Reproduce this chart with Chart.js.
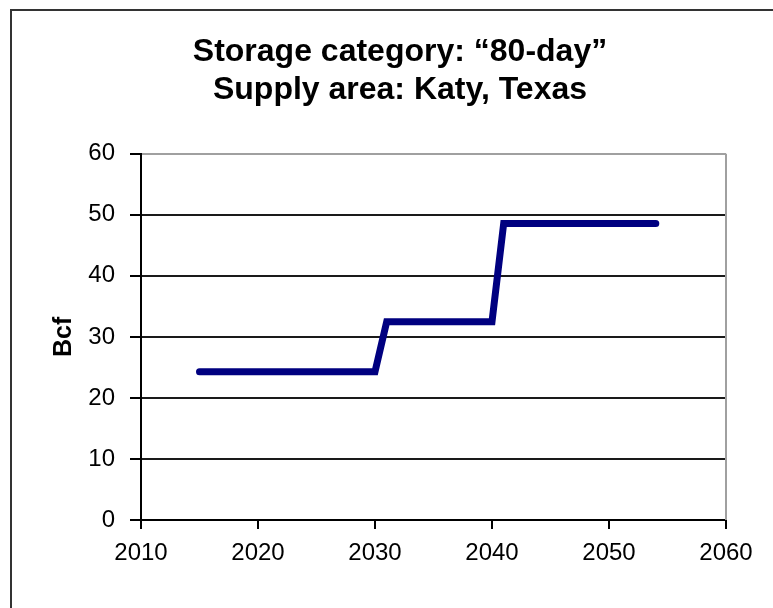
<!DOCTYPE html>
<html>
<head>
<meta charset="utf-8">
<script src="https://cdn.jsdelivr.net/npm/chart.js@4.4.1/dist/chart.umd.min.js"></script>
<style>
html,body{margin:0;padding:0;background:#fff;overflow:hidden}
#wrap{position:relative;width:773px;height:608px}
</style>
</head>
<body>
<div id="wrap"><canvas id="c" width="773" height="608"></canvas></div>
<script>
// ---- data ----
const titleLines = ['Storage category: \u201c80-day\u201d', 'Supply area: Katy, Texas'];
const yAxisTitle = 'Bcf';
const years = [2015, 2030, 2031, 2040, 2041, 2054];
const bcf = [24.3, 24.3, 32.5, 32.5, 48.6, 48.6];
const xTicks = [2010, 2020, 2030, 2040, 2050, 2060];
const yTicks = [0, 10, 20, 30, 40, 50, 60];

const FONT = "'Liberation Sans', Arial, Helvetica, sans-serif";

const framePlugin = {
  id: 'frame',
  beforeDraw(chart) {
    const ctx = chart.ctx;
    ctx.save();
    ctx.fillStyle = '#fff';
    ctx.fillRect(0, 0, chart.width, chart.height);
    ctx.strokeStyle = '#333';
    ctx.lineWidth = 2;
    ctx.beginPath();
    ctx.moveTo(11, chart.height);
    ctx.lineTo(11, 10);
    ctx.lineTo(chart.width, 10);
    ctx.stroke();
    ctx.restore();
  },
  beforeDatasetsDraw(chart) {
    const {ctx, chartArea} = chart;
    ctx.save();
    ctx.strokeStyle = '#a0a0a0';
    ctx.lineWidth = 2;
    ctx.beginPath();
    ctx.moveTo(chartArea.right, chartArea.top);
    ctx.lineTo(chartArea.right, chartArea.bottom);
    ctx.stroke();
    ctx.restore();
  }
};

new Chart(document.getElementById('c'), {
  type: 'line',
  data: {
    datasets: [{
      data: years.map((y, i) => ({x: y, y: bcf[i]})),
      borderColor: '#000080',
      borderWidth: 7,
      pointRadius: 0,
      tension: 0,
      borderCapStyle: 'round',
      borderJoinStyle: 'miter',
      fill: false
    }]
  },
  options: {
    responsive: false,
    animation: false,
    layout: { padding: { left: 74, right: 47, top: 0, bottom: 0 } },
    plugins: {
      legend: { display: false },
      tooltip: { enabled: false },
      title: {
        display: true,
        text: titleLines,
        color: '#000',
        font: { family: FONT, size: 32, weight: 'bold', lineHeight: 1.2 },
        padding: { top: 33, bottom: 44 }
      }
    },
    scales: {
      x: {
        type: 'linear',
        min: xTicks[0],
        max: xTicks[xTicks.length - 1],
        afterBuildTicks: s => { s.ticks = xTicks.map(v => ({value: v})); },
        afterFit: s => { s.height = 88; },
        ticks: {
          color: '#000',
          font: { family: FONT, size: 24 },
          padding: 10,
          maxRotation: 0,
          callback: v => String(v)
        },
        grid: { drawOnChartArea: false, drawTicks: true, tickLength: 9, color: '#000', lineWidth: 2 },
        border: { display: true, color: '#000', width: 2 }
      },
      y: {
        type: 'linear',
        min: yTicks[0],
        max: yTicks[yTicks.length - 1],
        afterBuildTicks: s => { s.ticks = yTicks.map(v => ({value: v})); },
        afterFit: s => { s.width = 67; },
        ticks: {
          color: '#000',
          font: { family: FONT, size: 24 },
          padding: 15,
          callback: v => String(v)
        },
        grid: {
          drawOnChartArea: true,
          tickLength: 11,
          lineWidth: 2,
          color: c => (c.tick && c.tick.value === 60 ? '#a0a0a0' : '#1a1a1a'),
          tickColor: '#000'
        },
        border: { display: true, color: '#000', width: 2 },
        title: {
          display: true,
          text: yAxisTitle,
          color: '#000',
          font: { family: FONT, size: 25, weight: 'bold', lineHeight: 1.2 },
          padding: { top: -25, bottom: 0 }
        }
      }
    }
  },
  plugins: [framePlugin]
});
</script>
</body>
</html>
